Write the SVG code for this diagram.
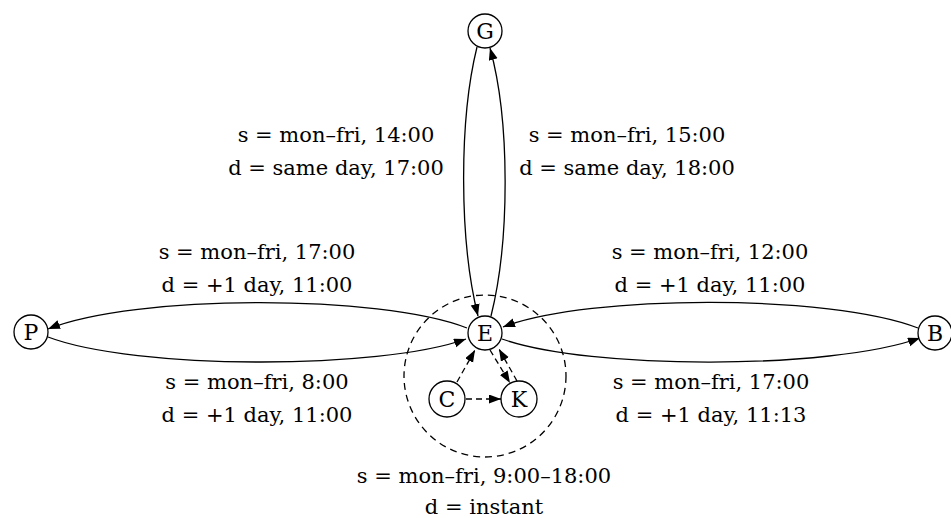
<svg xmlns="http://www.w3.org/2000/svg" width="951" height="518" viewBox="0 0 951 518">
<style>
.node circle{fill:#fff;stroke:#000;stroke-width:1.3}
.node text{font-family:"DejaVu Serif","Liberation Serif",serif;font-size:22px;text-anchor:middle;fill:#000}
.edge{fill:none;stroke:#000;stroke-width:1.3}
.dash{stroke-dasharray:6 4}
.lbl{font-family:"DejaVu Serif","Liberation Serif",serif;font-size:21px;text-anchor:middle;fill:#000}
</style>
<defs>
<marker id="ah" markerUnits="userSpaceOnUse" markerWidth="14" markerHeight="12" refX="12" refY="4.5" orient="auto">
<path d="M0,0 L12,4.5 L0,9 z" fill="#000"/>
</marker>
</defs>
<circle cx="485" cy="376" r="81" fill="none" stroke="#000" stroke-width="1.3" stroke-dasharray="7 5"/>
<g id="edges">
<path class="edge" d="M467,328 C380,294 135,294 48,329" marker-end="url(#ah)"/>
<path class="edge" d="M48,337 C135,370 380,370 466,339" marker-end="url(#ah)"/>
<path class="edge" d="M918,328 C830,294 590,294 503,327" marker-end="url(#ah)"/>
<path class="edge" d="M502,339 C590,370 830,370 920,338" marker-end="url(#ah)"/>
<path class="edge" d="M477,47 C459,120 459,240 478,316" marker-end="url(#ah)"/>
<path class="edge" d="M491,316 C510,240 510,120 490,48" marker-end="url(#ah)"/>
<path class="edge dash" d="M457,382 L475,350" marker-end="url(#ah)"/>
<path class="edge dash" d="M490,350 L510,383" marker-end="url(#ah)"/>
<path class="edge dash" d="M517,381 L499,349" marker-end="url(#ah)"/>
<path class="edge dash" d="M466,399 L501,399" marker-end="url(#ah)"/>
</g>
<g id="node-G" class="node"><circle cx="485" cy="31" r="17"/><text x="485" y="39">G</text></g>
<g id="node-E" class="node"><circle cx="485" cy="333" r="17"/><text x="485" y="341">E</text></g>
<g id="node-P" class="node"><circle cx="31" cy="332" r="17"/><text x="31" y="340">P</text></g>
<g id="node-B" class="node"><circle cx="935" cy="333" r="17"/><text x="935" y="341">B</text></g>
<g id="node-C" class="node"><circle cx="447" cy="399" r="18"/><text x="447" y="407">C</text></g>
<g id="node-K" class="node"><circle cx="519" cy="399" r="18"/><text x="519" y="407">K</text></g>
<g id="labels">
<text class="lbl" x="336" y="142">s = mon–fri, 14:00</text>
<text class="lbl" x="336" y="175">d = same day, 17:00</text>
<text class="lbl" x="627" y="142">s = mon–fri, 15:00</text>
<text class="lbl" x="627" y="175">d = same day, 18:00</text>
<text class="lbl" x="257" y="259">s = mon–fri, 17:00</text>
<text class="lbl" x="257" y="292">d = +1 day, 11:00</text>
<text class="lbl" x="710" y="259">s = mon–fri, 12:00</text>
<text class="lbl" x="710" y="292">d = +1 day, 11:00</text>
<text class="lbl" x="257" y="389">s = mon–fri, 8:00</text>
<text class="lbl" x="257" y="422">d = +1 day, 11:00</text>
<text class="lbl" x="711" y="389">s = mon–fri, 17:00</text>
<text class="lbl" x="711" y="422">d = +1 day, 11:13</text>
<text class="lbl" x="484" y="483">s = mon–fri, 9:00–18:00</text>
<text class="lbl" x="484" y="514">d = instant</text>
</g>
</svg>
